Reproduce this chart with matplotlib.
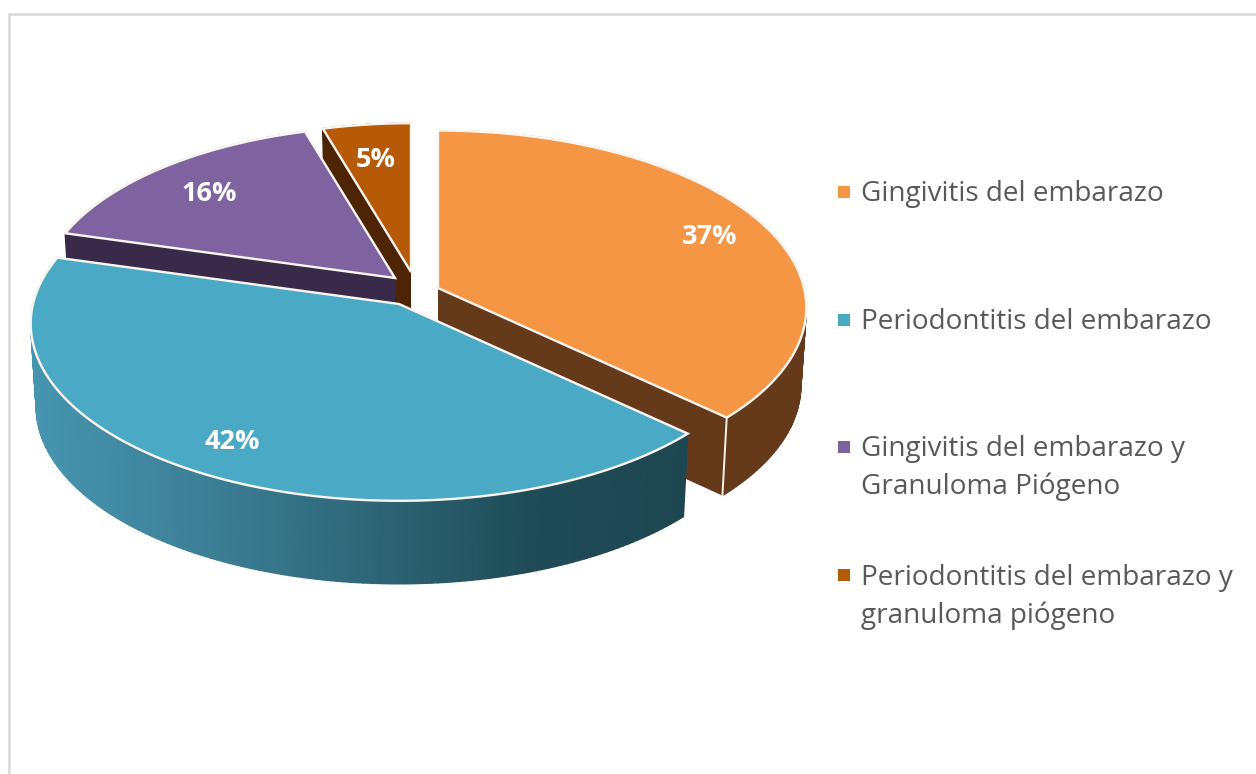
'''
Exploded 3D-looking pie of periodontal diagnoses during pregnancy.
'''
import numpy as np
import matplotlib.pyplot as plt

# Data
categories = ['Gingivitis del embarazo', 'Periodontitis del embarazo',
              'Gingivitis del embarazo y\nGranuloma Piógeno',
              'Periodontitis del embarazo y\ngranuloma piógeno']
values = [37, 42.4, 16.05, 4.55]

# Styles
top_colors = ['#F59645', '#4AAAC5', '#7F62A0', '#B65A08']
wall_colors = ['#653A1B', '#1E4650', '#3A2A4A', '#4D2504']
apexes = [(438, 288), (399, 304), (395, 278), (411, 272)]
radius_scale = [1, 1, 0.965, 0.945]  # back slices look smaller
depths = [78, 83, 81, 81]
label_pos = [(710, 237), (232, 442), (209, 194), (376, 160)]
legend_y = [194, 322, 468, 597]
marker_y = [192, 320, 447, 575]
draw_order = [3, 2, 0, 1]  # back to front

RADIUS = 366
TILT = 0.478
PERSP = 0.111
SHRINK = 0.985


def rim(apex, theta, scale):
    # perspective projection of the pie rim, theta clockwise from the top
    xx, yy = np.sin(theta), -np.cos(theta)
    den = 1 - PERSP * yy
    return (apex[0] + scale * RADIUS * xx / den,
            apex[1] + scale * RADIUS * TILT * yy / den)


def drop(apex, px, py, depth):
    return apex[0] + (np.asarray(px) - apex[0]) * SHRINK, np.asarray(py) + depth


def blue_shade(x):
    stops = [30, 200, 400, 530, 690]
    cols = np.array([[0x46, 0x95, 0xB0], [0x3D, 0x80, 0x97], [0x2C, 0x62, 0x72],
                     [0x1F, 0x4C, 0x58], [0x1E, 0x46, 0x50]]) / 255
    return [np.interp(x, stops, cols[:, i]) for i in range(3)]


fig = plt.figure(figsize=(12.56, 7.74), dpi=100)
ax = fig.add_axes([0, 0, 1, 1])
ax.set_xlim(0, 1256)
ax.set_ylim(774, 0)
ax.axis('off')

# Chart frame, cut off by the image on the right and at the bottom
ax.plot([8.5, 8.5, 1256], [774, 13.5, 13.5], color='#D9D9D9', lw=1.8, solid_joinstyle='miter')

edges = np.cumsum([0] + values) / sum(values) * 2 * np.pi

for idx in draw_order:
    apex = apexes[idx]
    depth = depths[idx]
    tt = np.linspace(edges[idx], edges[idx + 1], 160)
    rx, ry = rim(apex, tt, radius_scale[idx])
    bx, by = drop(apex, rx, ry, depth)
    ax0, ay0 = drop(apex, apex[0], apex[1], depth)

    # Cut faces
    for k in (0, -1):
        ax.fill([apex[0], rx[k], bx[k], ax0], [apex[1], ry[k], by[k], ay0],
                color=wall_colors[idx], lw=0)

    # Outer wall, split in strips so that the blue slice can carry a gradient
    for k in range(len(tt) - 1):
        color = blue_shade(rx[k]) if idx == 1 else wall_colors[idx]
        ax.fill([rx[k], rx[k + 1], bx[k + 1], bx[k]], [ry[k], ry[k + 1], by[k + 1], by[k]],
                color=color, lw=1.0)

    # White corner at the front of the orange slice
    if idx == 0:
        ax.plot([rx[-1], bx[-1]], [ry[-1], by[-1]], color='#FBF3EA', lw=1.4)

    # Top face with its light bevel
    ax.fill(np.r_[apex[0], rx], np.r_[apex[1], ry], facecolor=top_colors[idx],
            edgecolor='#FBF6F0', lw=1.7, joinstyle='miter')

for idx, val in enumerate(values):
    ax.text(label_pos[idx][0], label_pos[idx][1], f'{val:.0f}%', color='white', fontsize=19.5,
            fontweight='bold', family='Open Sans', ha='center', va='center')

for idx, cat in enumerate(categories):
    ax.plot(844, marker_y[idx], marker='s', ms=9, color=top_colors[idx], mew=0)
    ax.text(861, legend_y[idx], cat, color='#595959', fontsize=20.1, family='Open Sans',
            ha='left', va='center', linespacing=1.44)

plt.savefig('out.png', dpi=100)
plt.close()
